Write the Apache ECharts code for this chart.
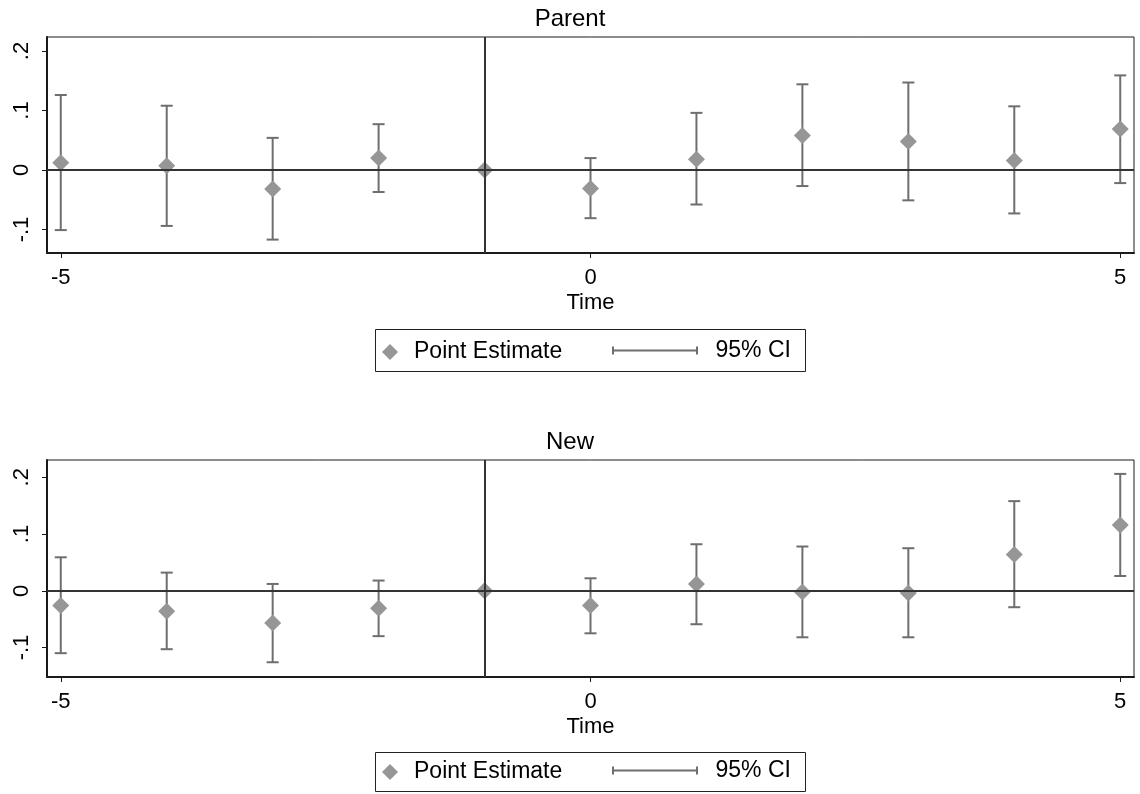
<!DOCTYPE html>
<html>
<head>
<meta charset="utf-8">
<script src="https://cdn.jsdelivr.net/npm/echarts@6/dist/echarts.min.js"></script>
<style>
html,body{margin:0;padding:0;background:#fff;}
#chart{width:1140px;height:794px;}
</style>
</head>
<body>
<div id="chart"></div>
<script>
// ---- data ----
const times = [-5, -4, -3, -2, -1, 0, 1, 2, 3, 4, 5];
const parentEst = [0.012, 0.007, -0.032, 0.020, 0, -0.031, 0.018, 0.058, 0.048, 0.016, 0.069];
const parentLo  = [-0.101, -0.094, -0.117, -0.037, null, -0.081, -0.058, -0.027, -0.051, -0.073, -0.022];
const parentHi  = [0.126, 0.108, 0.054, 0.077, null, 0.020, 0.096, 0.144, 0.147, 0.107, 0.159];
const newEst = [-0.026, -0.036, -0.057, -0.031, 0, -0.026, 0.012, -0.002, -0.004, 0.064, 0.116];
const newLo  = [-0.110, -0.103, -0.126, -0.080, null, -0.075, -0.059, -0.082, -0.082, -0.029, 0.026];
const newHi  = [0.059, 0.032, 0.012, 0.018, null, 0.022, 0.082, 0.078, 0.075, 0.158, 0.206];
const panelTitles = ['Parent', 'New'];
const xTicks = [-5, 0, 5];
const yTicks = [-0.1, 0, 0.1, 0.2];
const refTime = -1;
const refValue = 0;
const legendNames = ['Point Estimate', '95% CI'];

// ---- styling ----
const FONT = '"Liberation Sans", Arial, Helvetica, sans-serif';
const MARK_COLOR = '#969696';
const CI_COLOR = '#6e6e6e';
const AXIS_COLOR = '#1a1a1a';
const REF_COLOR = '#333333';

function yFmt(v) {
  if (Math.abs(v) < 1e-9) return '0';
  const s = String(Math.round(Math.abs(v) * 10) / 10).replace(/^0/, '');
  return (v < 0 ? '-' : '') + s;
}

function ciData(lo, hi) {
  const out = [];
  times.forEach((t, i) => {
    if (lo[i] != null && hi[i] != null) out.push([t, lo[i], hi[i]]);
  });
  return out;
}

function renderCI(params, api) {
  const x = api.value(0);
  const pLo = api.coord([x, api.value(1)]);
  const pHi = api.coord([x, api.value(2)]);
  const hw = 6;
  const style = { stroke: CI_COLOR, lineWidth: 2, fill: null };
  return {
    type: 'group',
    children: [
      { type: 'line', shape: { x1: pLo[0], y1: pLo[1], x2: pHi[0], y2: pHi[1] }, style: style },
      { type: 'line', shape: { x1: pLo[0] - hw, y1: pLo[1], x2: pLo[0] + hw, y2: pLo[1] }, style: style },
      { type: 'line', shape: { x1: pHi[0] - hw, y1: pHi[1], x2: pHi[0] + hw, y2: pHi[1] }, style: style }
    ]
  };
}

const grids = [
  { left: 47, right: 6, top: 37, height: 216 },
  { left: 47, right: 6, top: 460, height: 217 }
];
const yRanges = [[-0.1395, 0.2235], [-0.152, 0.2305]];

function xAxisFor(i) {
  return {
    type: 'value', gridIndex: i, min: -5.13, max: 5.13,
    name: 'Time', nameLocation: 'middle', nameGap: 39,
    nameTextStyle: { fontFamily: FONT, fontSize: 22, color: '#000' },
    axisLine: { show: true, onZero: false, lineStyle: { color: AXIS_COLOR, width: 2 } },
    axisTick: { show: true, length: 5, customValues: xTicks, lineStyle: { color: AXIS_COLOR, width: 1 } },
    axisLabel: { customValues: xTicks, margin: 14, fontFamily: FONT, fontSize: 22, color: '#000',
      formatter: v => String(v) },
    splitLine: { show: false }
  };
}
function yAxisFor(i) {
  return {
    type: 'value', gridIndex: i, min: yRanges[i][0], max: yRanges[i][1],
    axisLine: { show: true, onZero: false, lineStyle: { color: AXIS_COLOR, width: 2 } },
    axisTick: { show: true, length: 5, customValues: yTicks, lineStyle: { color: AXIS_COLOR, width: 1 } },
    axisLabel: { customValues: yTicks, rotate: 90, margin: 14, fontFamily: FONT, fontSize: 22, color: '#000',
      formatter: yFmt },
    splitLine: { show: false }
  };
}

function panelSeries(i, est, lo, hi) {
  return [
    {
      name: 'ref' + i, type: 'line', xAxisIndex: i, yAxisIndex: i, data: [], silent: true, z: 1,
      markLine: {
        silent: true, symbol: 'none', animation: false,
        label: { show: false },
        lineStyle: { color: REF_COLOR, width: 2, type: 'solid' },
        data: [{ xAxis: refTime }, { yAxis: refValue }]
      }
    },
    {
      name: legendNames[1], type: 'custom', xAxisIndex: i, yAxisIndex: i, z: 3,
      renderItem: renderCI, itemStyle: { color: CI_COLOR },
      encode: { x: 0, y: [1, 2] },
      data: ciData(lo, hi), animation: false
    },
    {
      name: legendNames[0], type: 'scatter', xAxisIndex: i, yAxisIndex: i, z: 4,
      symbol: 'diamond', symbolSize: 17,
      itemStyle: { color: MARK_COLOR, opacity: 1 },
      data: times.map((t, k) => [t, est[k]]), animation: false
    }
  ];
}

function legendPair(centerY) {
  return [
    {
      data: [{ name: legendNames[0], icon: 'diamond' }], left: 382, top: centerY - 9.5,
      itemWidth: 16, itemHeight: 16, padding: 0, selectedMode: false,
      textStyle: { fontFamily: FONT, fontSize: 23, color: '#000', padding: [0, 0, 0, 11] }
    },
    {
      data: [{ name: legendNames[1], icon: 'path://M0,0 L2,0 L2,3 L84,3 L84,0 L86,0 L86,8 L84,8 L84,5 L2,5 L2,8 L0,8 Z' }],
      left: 612, top: centerY - 11, itemWidth: 87, itemHeight: 8, padding: 0, selectedMode: false,
      textStyle: { fontFamily: FONT, fontSize: 23, color: '#000', padding: [0, 0, 0, 12] }
    }
  ];
}

const option = {
  animation: false,
  backgroundColor: '#fff',
  title: [
    { text: panelTitles[0], left: 'center', top: 7, padding: 0,
      textStyle: { fontFamily: FONT, fontSize: 24, fontWeight: 'normal', color: '#000' } },
    { text: panelTitles[1], left: 'center', top: 430, padding: 0,
      textStyle: { fontFamily: FONT, fontSize: 24, fontWeight: 'normal', color: '#000' } }
  ],
  grid: grids.map(g => Object.assign({ show: true, borderColor: AXIS_COLOR, borderWidth: 1, backgroundColor: '#fff' }, g)),
  xAxis: [xAxisFor(0), xAxisFor(1)],
  yAxis: [yAxisFor(0), yAxisFor(1)],
  legend: legendPair(350).concat(legendPair(770)),
  graphic: [
    { type: 'rect', shape: { x: 375.5, y: 329.5, width: 430, height: 42 }, style: { fill: null, stroke: '#222', lineWidth: 1 }, z: -1 },
    { type: 'rect', shape: { x: 375.5, y: 752.5, width: 430, height: 39 }, style: { fill: null, stroke: '#222', lineWidth: 1 }, z: -1 }
  ],
  series: panelSeries(0, parentEst, parentLo, parentHi).concat(panelSeries(1, newEst, newLo, newHi))
};

const chart = echarts.init(document.getElementById('chart'), null, { renderer: 'canvas' });
chart.setOption(option);
</script>
</body>
</html>
